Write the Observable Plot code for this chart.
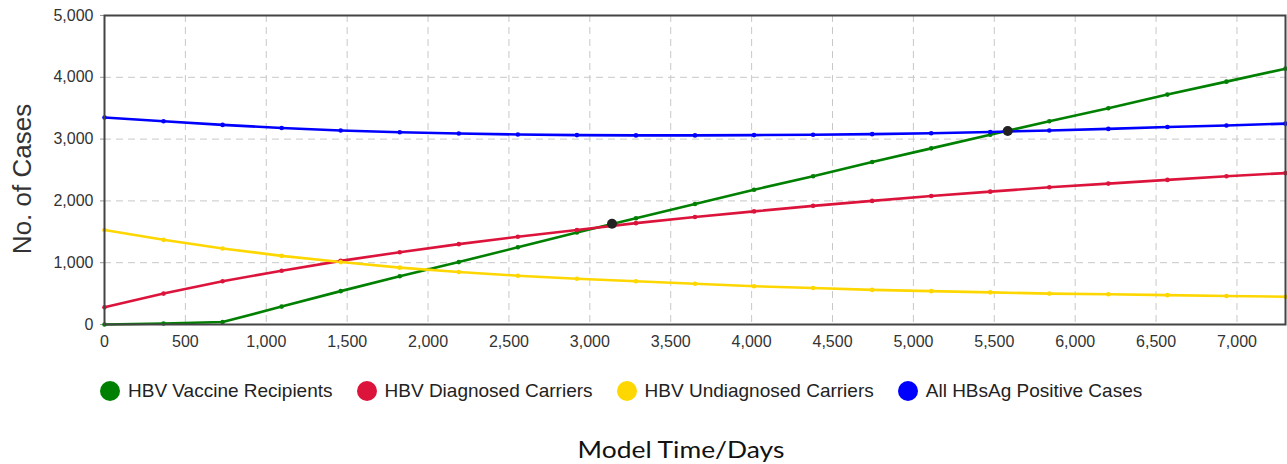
<!DOCTYPE html>
<html>
<head>
<meta charset="utf-8">
<script src="https://cdn.jsdelivr.net/npm/d3@7"></script>
<script src="https://cdn.jsdelivr.net/npm/@observablehq/plot@0.6"></script>
<style>
  html, body { margin: 0; padding: 0; background: #fff; }
  #wrap { width: 1287px; height: 464px; position: relative; font-family: "Liberation Sans", Arial, sans-serif; }
  #chart svg { display: block; }
  #chart svg text { fill: #333; }
  #legend { position: absolute; top: 379px; left: 100px; height: 24px; display: flex; align-items: center; font-size: 19px; color: #222; white-space: nowrap; }
  .item { display: flex; align-items: center; margin-right: 24px; }
  .sw { width: 20px; height: 20px; border-radius: 50%; margin-right: 8px; }
  #xtitle { position: absolute; top: 434px; left: 0; width: 1362px; text-align: center; font-family: Lato, "Open Sans", sans-serif; font-size: 24px; color: #111; }
  #xtitle span { display: inline-block; transform: scaleX(1.1); }
</style>
</head>
<body>
<div id="wrap">
  <div id="chart"></div>
  <div id="legend"></div>
  <div id="xtitle"><span>Model Time/Days</span></div>
</div>
<script>
// Data, one value per model year
const days = [0, 365, 730, 1095, 1460, 1825, 2190, 2555, 2920, 3285, 3650, 4015, 4380, 4745, 5110, 5475, 5840, 6205, 6570, 6935, 7300];
const vaccineRecipients = [0, 15, 40, 290, 540, 780, 1010, 1250, 1490, 1720, 1950, 2180, 2400, 2630, 2850, 3070, 3290, 3500, 3720, 3930, 4140];
const diagnosedCarriers = [280, 500, 700, 870, 1030, 1170, 1300, 1420, 1530, 1640, 1740, 1830, 1920, 2000, 2080, 2150, 2220, 2280, 2340, 2400, 2450];
const undiagnosedCarriers = [1530, 1370, 1230, 1110, 1010, 920, 850, 790, 740, 700, 660, 620, 590, 560, 540, 520, 500, 490, 475, 460, 450];
const positiveCases = [3350, 3290, 3230, 3180, 3140, 3110, 3090, 3075, 3065, 3060, 3060, 3065, 3070, 3080, 3095, 3115, 3140, 3165, 3195, 3220, 3250];

const seriesNames = ["HBV Vaccine Recipients", "HBV Diagnosed Carriers", "HBV Undiagnosed Carriers", "All HBsAg Positive Cases"];
const seriesColors = ["#008000", "#dc143c", "#ffd700", "#0000ff"];
const seriesValues = [vaccineRecipients, diagnosedCarriers, undiagnosedCarriers, positiveCases];

// Highlighted crossing points
const crossDays = [3137, 5583];
const crossValues = [1630, 3130];

const xTicks = d3.range(0, 7001, 500);
const yTicks = [0, 1000, 2000, 3000, 4000, 5000];

const rows = [];
seriesNames.forEach((name, i) => {
  days.forEach((d, j) => rows.push({series: name, day: d, value: seriesValues[i][j]}));
});
const crosses = crossDays.map((d, i) => ({day: d, value: crossValues[i]}));

const plot = Plot.plot({
  width: 1287,
  height: 356,
  marginLeft: 104,
  marginRight: 2,
  marginTop: 15,
  marginBottom: 32,
  style: {fontFamily: '"Liberation Sans", Arial, sans-serif', fontSize: "16px", background: "#fff"},
  x: {domain: [0, 7300], label: null},
  y: {domain: [0, 5000], label: null},
  color: {domain: seriesNames, range: seriesColors},
  marks: [
    Plot.gridX(xTicks, {stroke: "#c8c8c8", strokeOpacity: 1, strokeDasharray: "7,5", strokeWidth: 1}),
    Plot.gridY(yTicks, {stroke: "#c8c8c8", strokeOpacity: 1, strokeDasharray: "7,5", strokeWidth: 1}),
    Plot.axisX(xTicks, {tickFormat: d3.format(","), tickSize: 0, tickPadding: 11, label: null}),
    Plot.axisY(yTicks, {tickFormat: d3.format(","), tickSize: 4, tickPadding: 7, stroke: "#999", label: null}),
    Plot.text(["No. of Cases"], {frameAnchor: "left", textAnchor: "middle", dx: -82, dy: 9, rotate: -90, fontSize: 26, fill: "#111"}),
    Plot.line(rows, {x: "day", y: "value", z: "series", stroke: "series", strokeWidth: 2.6, curve: "linear"}),
    Plot.dot(rows, {x: "day", y: "value", fill: "series", r: 2.3}),
    Plot.dot(crosses, {x: "day", y: "value", fill: "#222", r: 5}),
    Plot.frame({stroke: "#444", strokeWidth: 2})
  ]
});
document.getElementById("chart").appendChild(plot);

const legend = document.getElementById("legend");
seriesNames.forEach((name, i) => {
  const item = document.createElement("div");
  item.className = "item";
  const sw = document.createElement("span");
  sw.className = "sw";
  sw.style.background = seriesColors[i];
  const label = document.createElement("span");
  label.textContent = name;
  item.appendChild(sw);
  item.appendChild(label);
  legend.appendChild(item);
});
</script>
</body>
</html>
